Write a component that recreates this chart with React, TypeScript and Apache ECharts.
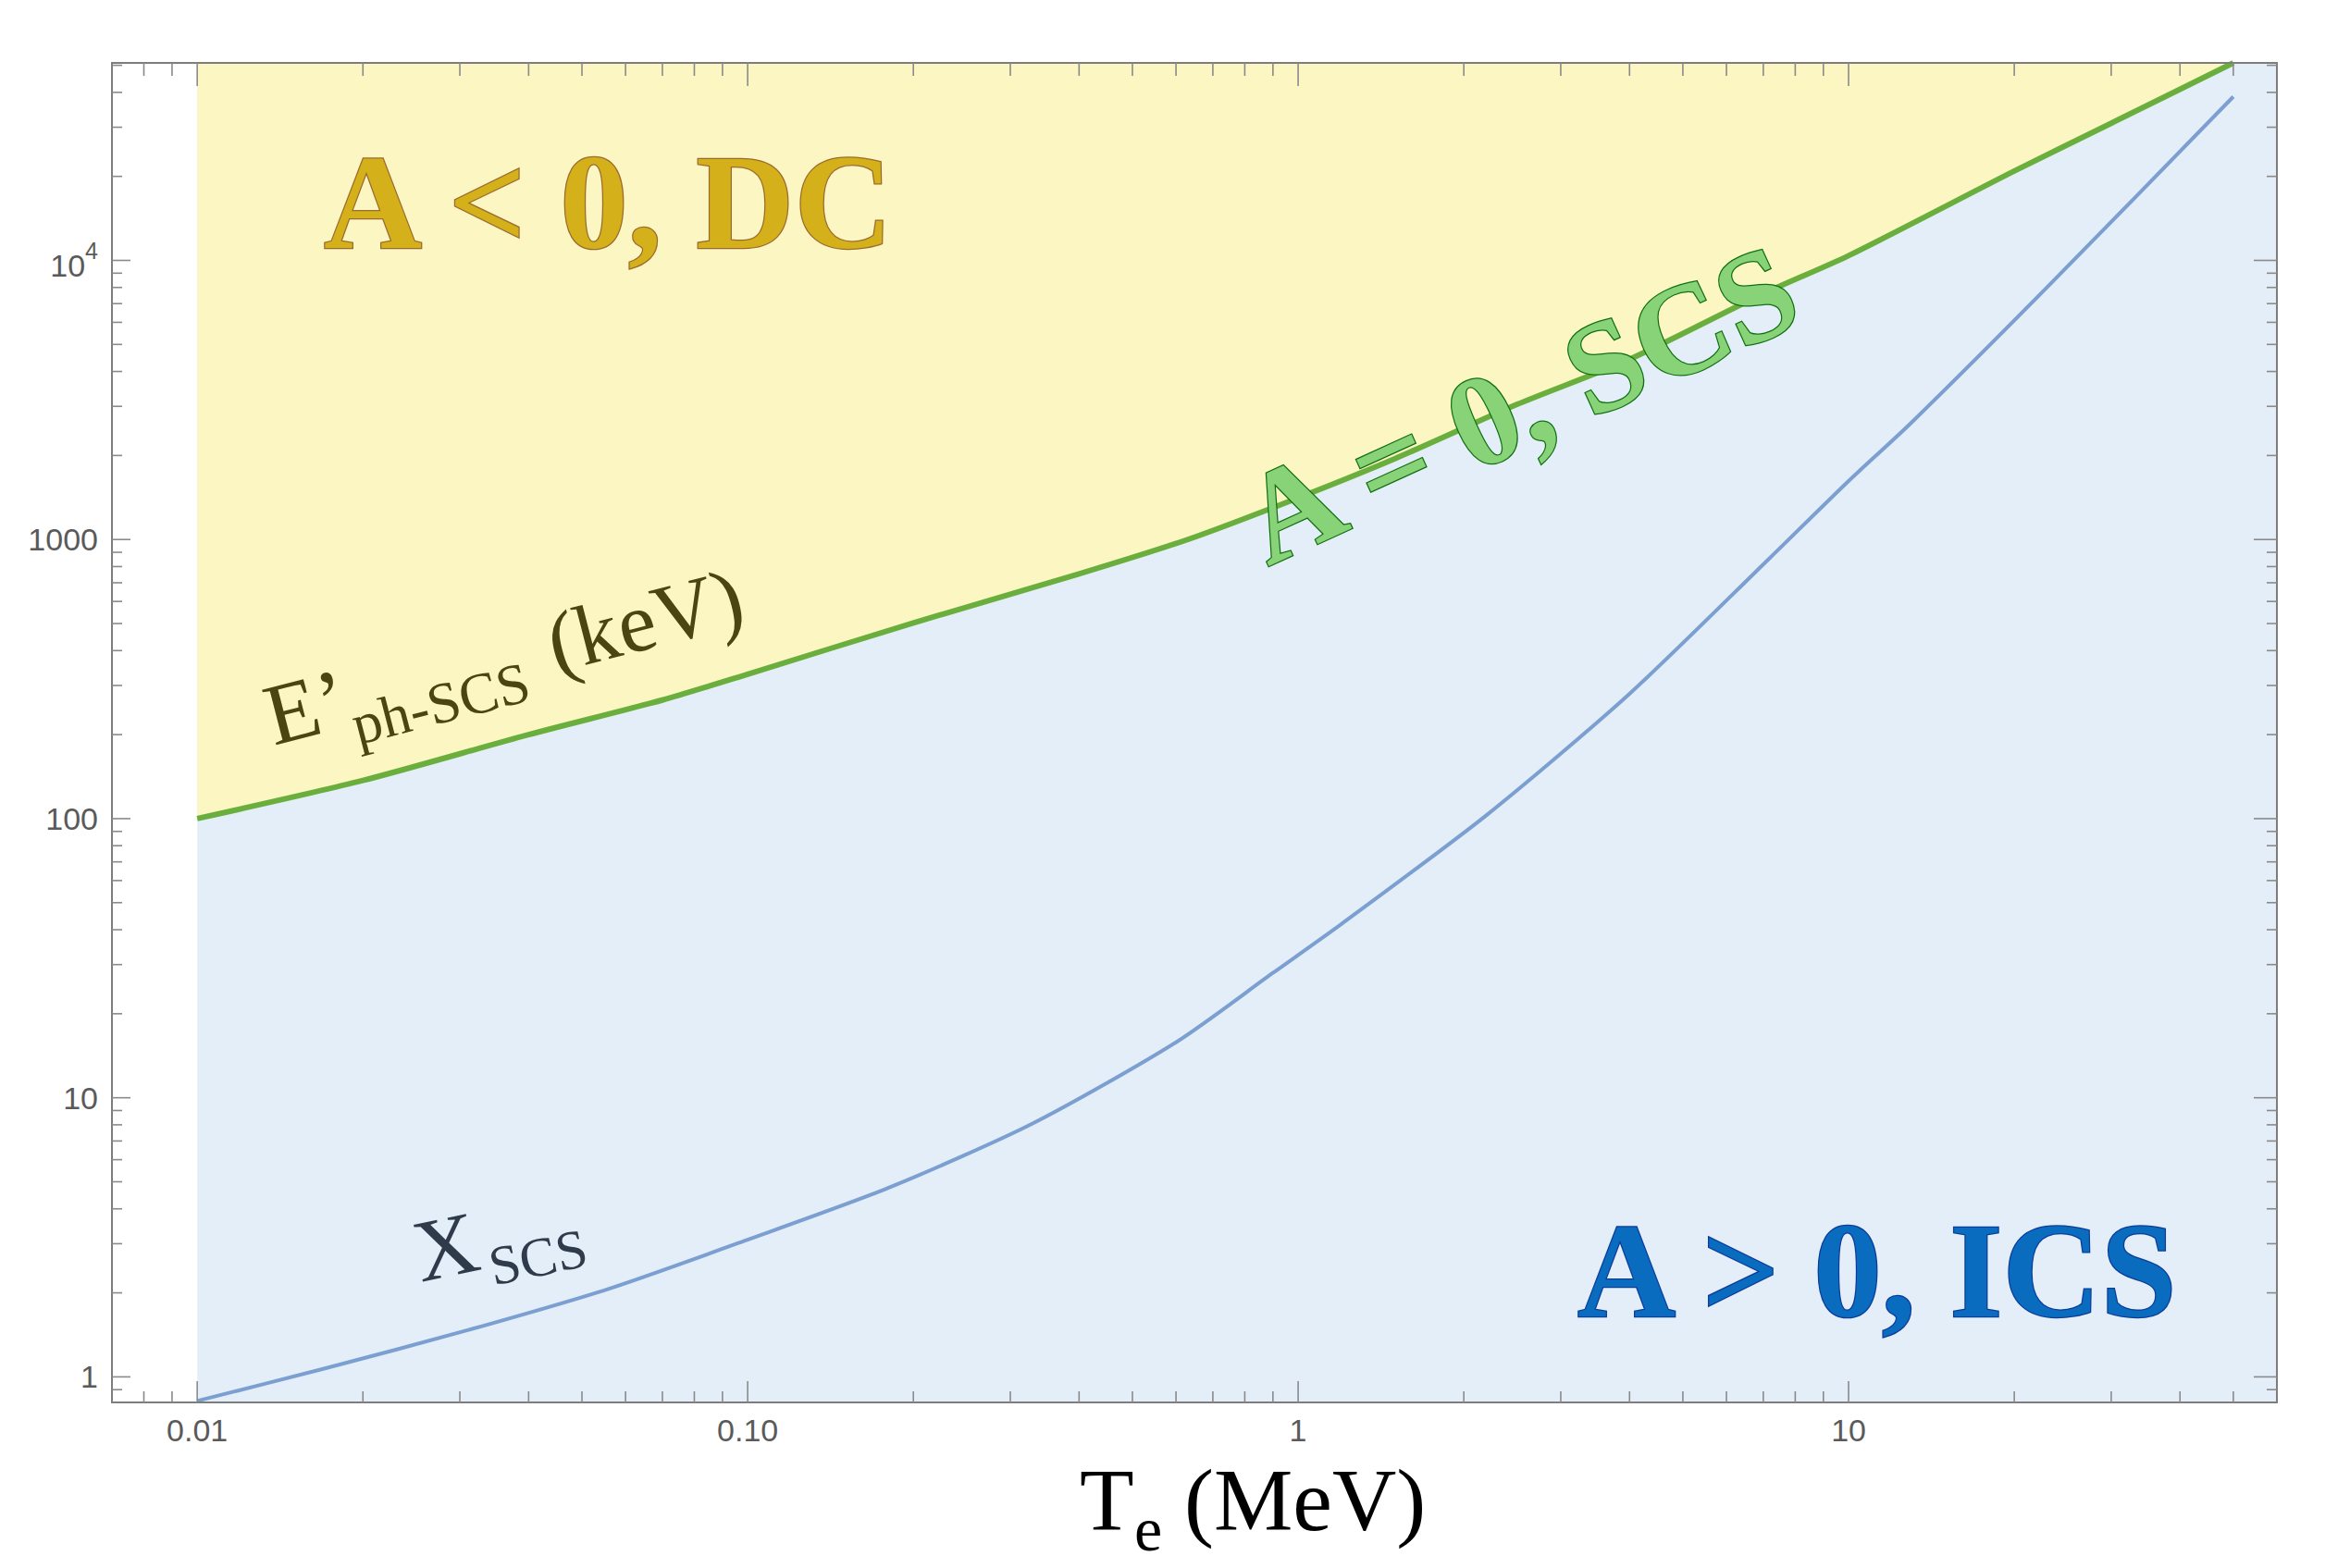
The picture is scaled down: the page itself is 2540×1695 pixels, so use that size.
import React, { useEffect, useRef } from 'react';
import * as echarts from 'echarts';

// ---- axis ranges ----
const X_MIN = 0.007;
const X_MAX = 60;
const Y_MIN = 0.81;
const Y_MAX = 51000;

// ---- E'ph-SCS (keV) vs Te (MeV): the A = 0 boundary ----
const tempMeV = [0.01, 0.02, 0.04, 0.07, 0.1, 0.2, 0.4, 0.63, 1, 1.5, 2.5, 4, 7, 10, 20, 30, 50];
const ephScsKeV = [100, 137, 200, 266, 329, 503, 753, 1000, 1410, 1950, 3050, 4420, 7600, 10400, 20900, 31000, 51000];

// ---- X_SCS vs Te (MeV) ----
const tempXMeV = [0.01, 0.017, 0.031, 0.056, 0.1, 0.18, 0.33, 0.6, 0.9, 1.2, 2.2, 4, 7.2, 10, 13, 23, 50];
const xScs = [0.82, 1.07, 1.47, 2.07, 3.1, 4.75, 8.1, 15.8, 28, 42, 103, 280, 860, 1620, 2620, 8050, 38600];

// ---- tick labels ----
const xTickValues = [0.01, 0.1, 1, 10];
const xTickLabels = ['0.01', '0.10', '1', '10'];
const yTickValues = [1, 10, 100, 1000, 10000];
const yTickLabels = ['1', '10', '100', '1000', '{b|10}{sup|4}'];
const decades = [0.001, 0.01, 0.1, 1, 10, 100, 1000, 10000];

const SERIF = "'Liberation Serif', 'Times New Roman', serif";
const SANS = "'Liberation Sans', Arial, sans-serif";
const LABEL_COLOR = '#5a5a5a';
const TICK_COLOR = '#8a8a8a';
const FRAME_COLOR = '#7d7d7d';

function sameLog(a: number, b: number) {
  return Math.abs(Math.log10(a) - Math.log10(b)) < 1e-6;
}

function buildTicks() {
  const rows: number[][] = [];
  rows.push([X_MIN, Y_MIN, 2, 0]);
  xTickValues.forEach((v) => rows.push([v, Y_MIN, 0, 1]));
  yTickValues.forEach((v) => rows.push([X_MIN, v, 1, 1]));
  decades.forEach((d) => {
    for (let k = 2; k <= 9; k++) {
      const v = +(k * d).toPrecision(3);
      if (v > X_MIN && v < X_MAX) rows.push([v, Y_MIN, 0, 0]);
      if (v > Y_MIN && v < Y_MAX) rows.push([X_MIN, v, 1, 0]);
    }
  });
  return rows;
}

function txt(text: string, x: number, y: number, size: number, fill: string, extra: any = {}) {
  return {
    type: 'text',
    z: 100,
    x,
    y,
    style: {
      text,
      fontFamily: SERIF,
      fontSize: size,
      fill,
      align: 'left',
      verticalAlign: 'middle',
      textAlign: 'left',
      textVerticalAlign: 'middle',
      ...extra,
    },
  };
}

function buildOption(): any {
  const tickRows = buildTicks();
  return {
    animation: false,
    backgroundColor: '#ffffff',
    grid: { left: 121, top: 68, right: 79, bottom: 179, outerBoundsMode: 'none', containLabel: false },
    xAxis: {
      type: 'log',
      logBase: 10,
      min: X_MIN,
      max: X_MAX,
      axisLine: { show: false },
      axisTick: { show: false },
      splitLine: { show: false },
      minorTick: { show: false },
      axisLabel: {
        margin: 13,
        fontSize: 34,
        fontFamily: SANS,
        color: LABEL_COLOR,
        formatter: (v: number) => {
          const i = xTickValues.findIndex((t) => sameLog(t, v));
          return i >= 0 ? xTickLabels[i] : '';
        },
      },
    },
    yAxis: {
      type: 'log',
      logBase: 10,
      min: Y_MIN,
      max: Y_MAX,
      axisLine: { show: false },
      axisTick: { show: false },
      splitLine: { show: false },
      minorTick: { show: false },
      axisLabel: {
        margin: 15,
        fontSize: 34,
        fontFamily: SANS,
        color: LABEL_COLOR,
        formatter: (v: number) => {
          const i = yTickValues.findIndex((t) => sameLog(t, v));
          return i >= 0 ? yTickLabels[i] : '';
        },
        rich: {
          b: { fontSize: 34, fontFamily: SANS, color: LABEL_COLOR, padding: [12, 0, 0, 0] },
          sup: { fontSize: 25, fontFamily: SANS, color: LABEL_COLOR, verticalAlign: 'top' },
        },
      },
    },
    series: [
      {
        type: 'line',
        name: 'X_SCS',
        data: tempXMeV.map((t, i) => [t, xScs[i]]),
        showSymbol: false,
        smooth: 0.25,
        silent: true,
        z: 2,
        lineStyle: { color: '#7b9fd0', width: 4, join: 'round' },
        markArea: {
          silent: true,
          label: { show: false },
          itemStyle: { color: '#e4eef9' },
          data: [[{ xAxis: tempMeV[0], yAxis: Y_MIN }, { xAxis: X_MAX, yAxis: Y_MAX }]],
        },
      },
      {
        type: 'line',
        name: "E'ph-SCS",
        data: tempMeV.map((t, i) => [t, ephScsKeV[i]]),
        showSymbol: false,
        smooth: 0.25,
        silent: true,
        z: 3,
        lineStyle: { color: '#6aaf3e', width: 6, join: 'round' },
        areaStyle: { color: '#fbf6c2', origin: 'end', opacity: 1 },
      },
      {
        type: 'custom',
        name: 'frame',
        silent: true,
        clip: false,
        z: 10,
        data: tickRows,
        renderItem: (params: any, api: any) => {
          const cs = params.coordSys;
          const left = cs.x;
          const top = cs.y;
          const right = cs.x + cs.width;
          const bottom = cs.y + cs.height;
          const kind = api.value(2);
          const major = api.value(3) === 1;
          if (kind === 2) {
            return {
              type: 'rect',
              shape: { x: left, y: top, width: cs.width, height: cs.height },
              style: { fill: 'none', stroke: FRAME_COLOR, lineWidth: 2 },
            };
          }
          if (kind === 0) {
            const px = api.coord([api.value(0), Y_MIN])[0];
            const lb = major ? 23 : 12;
            const lt = major ? 25 : 14;
            return {
              type: 'group',
              children: [
                { type: 'line', shape: { x1: px, y1: bottom, x2: px, y2: bottom - lb }, style: { stroke: TICK_COLOR, lineWidth: 1.6 } },
                { type: 'line', shape: { x1: px, y1: top, x2: px, y2: top + lt }, style: { stroke: TICK_COLOR, lineWidth: 1.6 } },
              ],
            };
          }
          const py = api.coord([X_MIN, api.value(1)])[1];
          const ll = major ? 20 : 11;
          const lr = major ? 25 : 11;
          return {
            type: 'group',
            children: [
              { type: 'line', shape: { x1: left, y1: py, x2: left + ll, y2: py }, style: { stroke: TICK_COLOR, lineWidth: 1.6 } },
              { type: 'line', shape: { x1: right, y1: py, x2: right - lr, y2: py }, style: { stroke: TICK_COLOR, lineWidth: 1.6 } },
            ],
          };
        },
      },
    ],
    graphic: [
      txt('A < 0, DC', 350, 218, 147, '#d4b01b', { fontWeight: 'bold', stroke: '#9c6a2e', lineWidth: 2.5 }),
      txt('A > 0, ICS', 1705, 1373, 147, '#0a6cbf', { fontWeight: 'bold', stroke: '#0b3c9a', lineWidth: 2.5 }),
      {
        type: 'group',
        z: 100,
        x: 1370,
        y: 612,
        rotation: 0.4276,
        children: [txt('A = 0, SCS', 0, -47, 140, '#88d278', { fontWeight: 'bold', stroke: '#117011', lineWidth: 2.5 })],
      },
      {
        type: 'group',
        z: 100,
        x: 296,
        y: 806,
        rotation: 0.253,
        children: [
          txt('E’', 0, -32, 94, '#4b4511'),
          txt('ph-SCS', 88, 1, 63, '#4b4511'),
          txt('(keV)', 315, -31, 92, '#4b4511'),
        ],
      },
      {
        type: 'group',
        z: 100,
        x: 455,
        y: 1386,
        rotation: 0.209,
        children: [txt('X', 0, -32, 95, '#2f3b4b'), txt('SCS', 76, 0, 60, '#2f3b4b')],
      },
      txt('T', 1167, 1621, 96, '#000000'),
      txt('e', 1226, 1653, 68, '#000000'),
      txt('(MeV)', 1280, 1621, 96, '#000000'),
    ],
  };
}

export default function App() {
  const ref = useRef<HTMLDivElement>(null);
  useEffect(() => {
    document.body.style.margin = '0';
    if (!ref.current) return;
    const chart = echarts.init(ref.current, undefined, { renderer: 'svg', width: 2540, height: 1695 });
    chart.setOption(buildOption());
    return () => {
      chart.dispose();
    };
  }, []);
  return (
    <div
      ref={ref}
      style={{ position: 'fixed', left: 0, top: 0, width: 2540, height: 1695, background: '#ffffff' }}
    />
  );
}
